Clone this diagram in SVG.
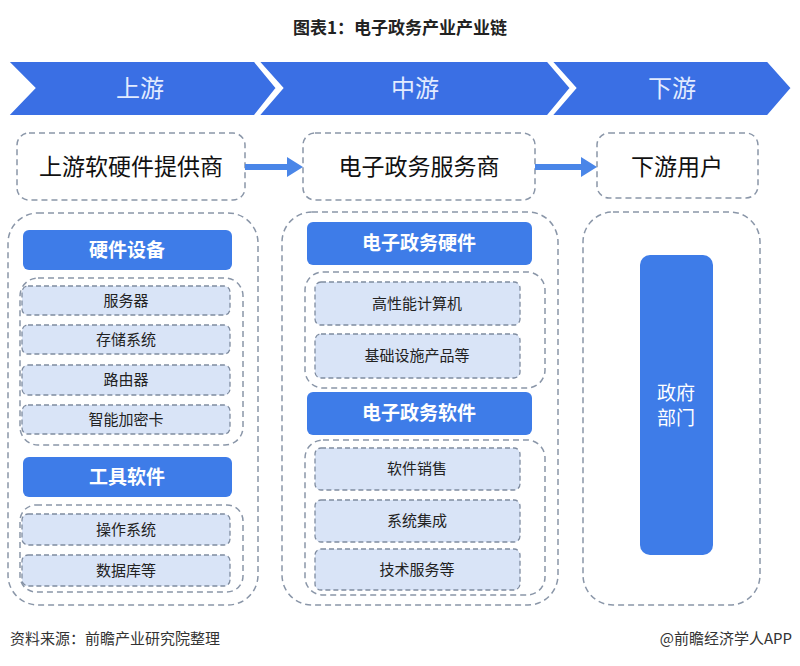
<svg xmlns="http://www.w3.org/2000/svg" width="800" height="666" viewBox="0 0 800 666">
<style>
text{font-family:"Noto Sans CJK SC","Liberation Sans",sans-serif;text-anchor:middle}
.chev{fill:#3a6fe4;stroke:#fff;stroke-width:4;stroke-linejoin:miter}
.ct{fill:#e2ebff;font-size:24px}
.dash{fill:#fff;stroke:#8a96a8;stroke-width:1.5;stroke-dasharray:6 4}
.dashn{fill:none;stroke:#8a96a8;stroke-width:1.5;stroke-dasharray:6 4}
.hd{fill:#3e7ce8}
.ht{fill:#fff;font-size:19px;font-weight:bold}
.it{fill:#d9e4f7;stroke:#7f8ca0;stroke-width:1.3;stroke-dasharray:5 3}
.itt{fill:#222;font-size:15px}
.bt{fill:#111;font-size:23px}
</style>
<rect width="800" height="666" fill="#fff"/>
<text x="400" y="34" font-size="17" font-weight="bold" fill="#222">图表1：电子政务产业产业链</text>
<g id="stages">
<polygon class="chev" points="5,60 255,60 278,88 255,117 5,117 33,88"/>
<polygon class="chev" points="256,60 548,60 572,88 548,117 256,117 281,88"/>
<polygon class="chev" points="549,60 768,60 793,88 768,117 549,117 574,88"/>
<text class="ct" x="140" y="97">上游</text>
<text class="ct" x="415" y="97">中游</text>
<text class="ct" x="672" y="97">下游</text>
</g>
<g id="n-up"><rect class="dash" x="17" y="133" width="228" height="67" rx="12"/><text class="bt" x="131" y="175">上游软硬件提供商</text></g>
<g id="n-mid"><rect class="dash" x="303" y="133" width="232" height="67" rx="12"/><text class="bt" x="419" y="175">电子政务服务商</text></g>
<g id="n-down"><rect class="dash" x="597" y="133" width="161" height="65" rx="12"/><text class="bt" x="677" y="175">下游用户</text></g>
<g id="connectors" fill="#4a86e8">
<polygon points="245,164 287,164 287,157 303,167 287,177 287,170 245,170"/>
<polygon points="535,164 581,164 581,157 597,167 581,177 581,170 535,170"/>
</g>
<g id="p-up">
<rect class="dashn" x="8" y="213" width="250" height="392" rx="30"/>
<rect class="hd" x="23" y="230" width="209" height="40" rx="6"/><text class="ht" x="127" y="257">硬件设备</text>
<rect class="dashn" x="20" y="278" width="223" height="167" rx="18"/>
<rect class="it" x="22" y="286" width="208" height="29" rx="6"/><text class="itt" x="126" y="306">服务器</text>
<rect class="it" x="22" y="325" width="208" height="29" rx="6"/><text class="itt" x="126" y="345">存储系统</text>
<rect class="it" x="22" y="365" width="208" height="30" rx="6"/><text class="itt" x="126" y="385">路由器</text>
<rect class="it" x="22" y="405" width="208" height="29" rx="6"/><text class="itt" x="126" y="425">智能加密卡</text>
<rect class="hd" x="23" y="457" width="209" height="40" rx="6"/><text class="ht" x="127" y="484">工具软件</text>
<rect class="dashn" x="20" y="505" width="223" height="87" rx="16"/>
<rect class="it" x="22" y="514" width="208" height="31" rx="6"/><text class="itt" x="126" y="535">操作系统</text>
<rect class="it" x="22" y="555" width="208" height="31" rx="6"/><text class="itt" x="126" y="576">数据库等</text>
</g>
<g id="p-mid">
<rect class="dashn" x="282" y="212" width="276" height="393" rx="30"/>
<rect class="hd" x="307" y="222" width="225" height="43" rx="6"/><text class="ht" x="419" y="250">电子政务硬件</text>
<rect class="dashn" x="305" y="272" width="240" height="116" rx="18"/>
<rect class="it" x="315" y="282" width="205" height="43" rx="6"/><text class="itt" x="417" y="309">高性能计算机</text>
<rect class="it" x="315" y="334" width="205" height="44" rx="6"/><text class="itt" x="417" y="361">基础设施产品等</text>
<rect class="hd" x="307" y="392" width="225" height="43" rx="6"/><text class="ht" x="419" y="420">电子政务软件</text>
<rect class="dashn" x="305" y="440" width="240" height="155" rx="18"/>
<rect class="it" x="315" y="448" width="205" height="42" rx="6"/><text class="itt" x="417" y="474">软件销售</text>
<rect class="it" x="315" y="500" width="205" height="42" rx="6"/><text class="itt" x="417" y="526">系统集成</text>
<rect class="it" x="315" y="549" width="205" height="41" rx="6"/><text class="itt" x="417" y="575">技术服务等</text>
</g>
<g id="p-down">
<rect class="dashn" x="583" y="212" width="177" height="393" rx="30"/>
<rect class="hd" x="640" y="255" width="73" height="300" rx="10"/>
<text x="676" y="400" fill="#fff" font-size="19">政府</text>
<text x="676" y="425" fill="#fff" font-size="19">部门</text>
</g>
<text x="10" y="644" font-size="15" fill="#333" style="text-anchor:start">资料来源：前瞻产业研究院整理</text>
<text x="792" y="644" font-size="15" fill="#333" style="text-anchor:end">@前瞻经济学人APP</text>
</svg>
